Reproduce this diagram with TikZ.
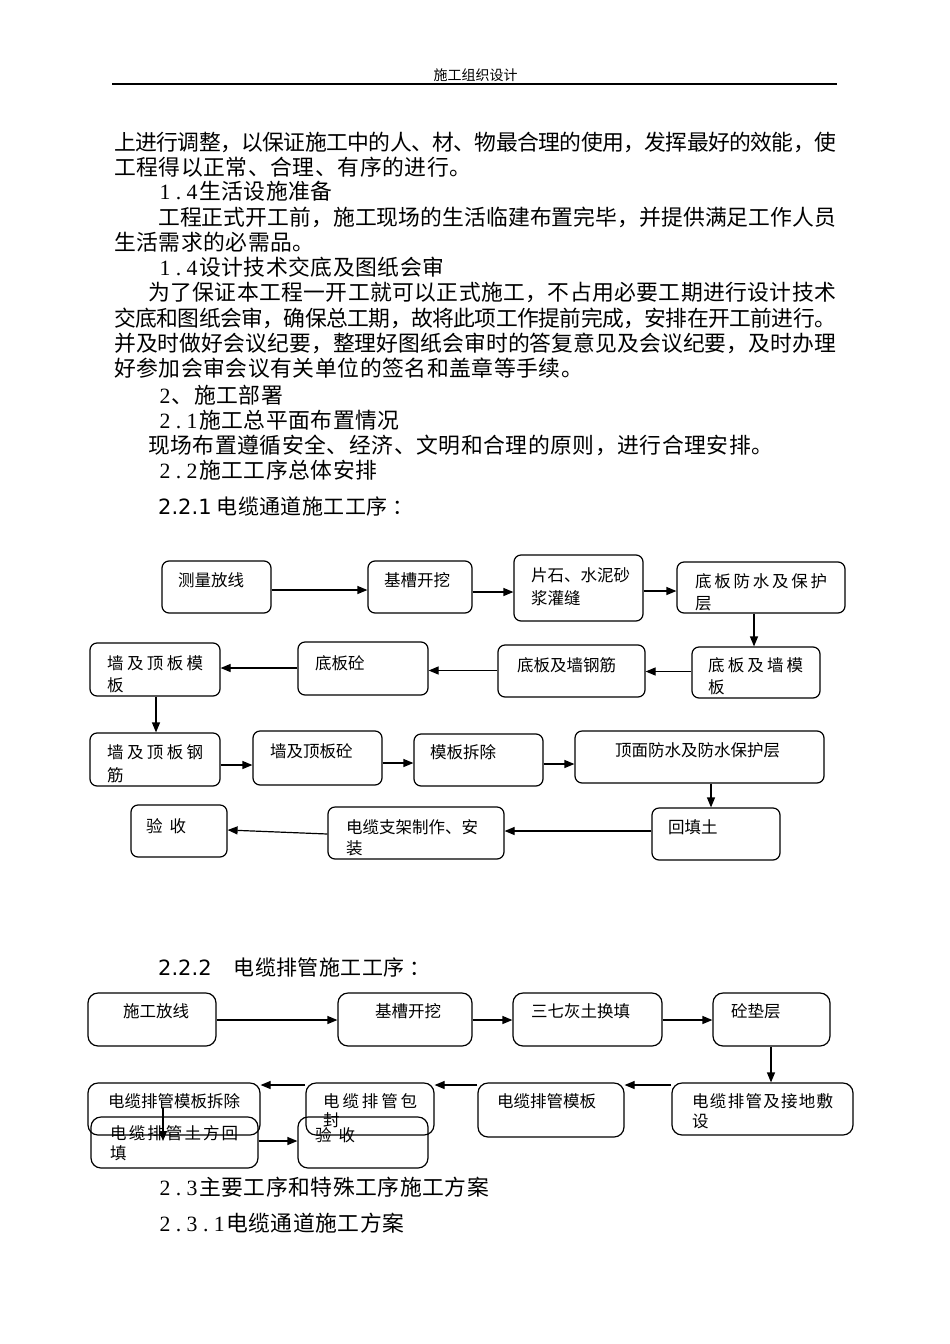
\documentclass[tikz,border=0pt]{standalone}
\usepackage{fontspec}
\setmainfont{Noto Sans CJK SC}
\newfontfamily\lser{Liberation Serif}
\newfontfamily\dvs{DejaVu Sans}
\usetikzlibrary{arrows.meta}
\newcommand\hwA[1]{\makebox[13.6pt][c]{\lser #1}}
\makeatletter
\newcommand\sprd[2]{\def\sp@g{#1}\sprd@a#2\@nil}
\def\sprd@a#1{#1\sprd@b}
\def\sprd@b#1{\ifx\@nil#1\else\sp@g#1\expandafter\sprd@b\fi}
\makeatother
\newcommand\jl[2]{\makebox[#1][s]{\sprd{\hskip 0pt plus 1fil minus 1pt}{#2}}}
\newcommand\lsp[1]{\sprd{\hskip 0.55pt}{#1}}
\newcommand\bbox[6]{\node[#1, minimum width={#4-#2}, minimum height={#5-#3}] (#6) at ({(#2+#4)/2},{(#3+#5)/2}) {};}
\begin{document}
\begin{tikzpicture}[x=1pt,y=-1pt,
  body/.style={anchor=west, inner sep=0pt, font=\fontsize{21.8}{26}\selectfont, text height=19.2pt, text depth=2.6pt},
  ttl/.style={anchor=west, inner sep=0pt, font=\fontsize{21}{25}\selectfont, text height=18.5pt, text depth=2.5pt},
  hdr/.style={anchor=center, inner sep=0pt, font=\fontsize{14}{16}\selectfont, text height=12.3pt, text depth=1.7pt},
  bt/.style={anchor=west, inner sep=0pt, font=\fontsize{16.5}{19}\selectfont, text height=14.5pt, text depth=2pt},
  fa/.style={draw, line width=1.2pt, rounded corners=7pt, inner sep=0pt},
  fb/.style={draw, line width=1.2pt, rounded corners=10pt, inner sep=0pt},
  arr/.style={line width=1.2pt, -{Triangle[length=10pt,width=8pt]}}]
\useasboundingbox[fill=white] (0,0) rectangle (950,1344);

% header
\node[hdr] (hd) at (475.5,75) {施工组织设计};
\coordinate (rl) at (112,84);
\coordinate (rr) at (837,84);
\draw[line width=1.4pt] (rl) -- (rr);

% body text
\node[body] (l1) at (114,141.7) {\jl{722pt}{上进行调整，以保证施工中的人、材、物最合理的使用，发挥最好的效能，使}};
\node[body] (l2) at (114,166.7) {\lsp{工程得以正常、合理、有序的进行。}};
\node[body] (l3) at (158,191.3) {\hwA{1}\hwA{.}\hwA{4}\lsp{生活设施准备}};
\node[body] (l4) at (158,216.7) {\jl{678pt}{工程正式开工前，施工现场的生活临建布置完毕，并提供满足工作人员}};
\node[body] (l5) at (114,241.7) {\lsp{生活需求的必需品。}};
\node[body] (l6) at (158,267.3) {\hwA{1}\hwA{.}\hwA{4}\lsp{设计技术交底及图纸会审}};
\node[body] (l7) at (148,292.3) {\jl{688pt}{为了保证本工程一开工就可以正式施工，不占用必要工期进行设计技术}};
\node[body] (l8) at (114,317.7) {\jl{722pt}{交底和图纸会审，确保总工期，故将此项工作提前完成，安排在开工前进行。}};
\node[body] (l9) at (114,342.7) {\jl{722pt}{并及时做好会议纪要，整理好图纸会审时的答复意见及会议纪要，及时办理}};
\node[body] (l10) at (114,368.3) {\lsp{好参加会审会议有关单位的签名和盖章等手续。}};
\node[body] (l11) at (158,395) {\hwA{2}\lsp{、施工部署}};
\node[body] (l12) at (158,420) {\hwA{2}\hwA{.}\hwA{1}\lsp{施工总平面布置情况}};
\node[body] (l13) at (148,445) {\lsp{现场布置遵循安全、经济、文明和合理的原则，进行合理安排。}};
\node[body] (l14) at (158,470.3) {\hwA{2}\hwA{.}\hwA{2}\lsp{施工工序总体安排}};

\node[ttl] (t1) at (158,506.7) {{\dvs 2.2.1}\hspace{5pt}\sprd{\hskip 0.4pt}{电缆通道施工工序}\hspace{5pt}：};

% flowchart 1
\bbox{fa}{162}{561}{271}{613}{a1}
\bbox{fa}{368}{561}{472}{613}{a2}
\bbox{fa}{514}{555}{643}{621}{a3}
\bbox{fa}{677}{562}{845}{613}{a4}
\bbox{fa}{692}{647}{820}{698}{a5}
\bbox{fa}{498}{645}{645}{697}{a6}
\bbox{fa}{298}{642}{428}{695}{a7}
\bbox{fa}{90}{643}{220}{696}{a8}
\bbox{fa}{90}{733}{220}{786}{a9}
\bbox{fa}{253}{731}{382}{785}{a10}
\bbox{fa}{414}{734}{543}{786}{a11}
\bbox{fa}{575}{731}{824}{783}{a12}
\bbox{fa}{652}{808}{780}{860}{a13}
\bbox{fa}{328}{807}{504}{859}{a14}
\bbox{fa}{131}{805}{227}{857}{a15}

\node[bt] (ta1) at (178,580) {测量放线};
\node[bt] (ta2) at (384,580) {基槽开挖};
\node[bt] (ta3a) at (531,575) {片石、水泥砂};
\node[bt] (ta3b) at (531,598) {浆灌缝};
\node[bt] (ta4a) at (695,581.5) {\jl{132pt}{底板防水及保护}};
\node[bt] (ta4b) at (695,603) {层};
\node[bt] (ta5a) at (708,665) {\jl{95pt}{底板及墙模}};
\node[bt] (ta5b) at (708,687) {板};
\node[bt] (ta6) at (517,665) {底板及墙钢筋};
\node[bt] (ta7) at (315,663) {底板砼};
\node[bt] (ta8a) at (107,663) {\jl{96pt}{墙及顶板模}};
\node[bt] (ta8b) at (107,685) {板};
\node[bt] (ta9a) at (107,752.7) {\jl{96pt}{墙及顶板钢}};
\node[bt] (ta9b) at (107,775) {筋};
\node[bt] (ta10) at (270,751.7) {墙及顶板砼};
\node[bt] (ta11) at (430,752) {模板拆除};
\node[bt] (ta12) at (615,750) {顶面防水及防水保护层};
\node[bt] (ta13) at (668,827) {回填土};
\node[bt] (ta14a) at (346,827) {电缆支架制作、安};
\node[bt] (ta14b) at (346,848) {装};
\node[bt] (ta15) at (146,826) {验\hspace{7pt}收};

\draw[arr] (a1.east |- 0,590) -- (a2.west |- 0,590);
\draw[arr] (a2.east |- 0,592) -- (a3.west |- 0,592);
\draw[arr] (a3.east |- 0,591) -- (a4.west |- 0,591);
\draw[arr] (a4.south -| 754,0) -- (a5.north -| 754,0);
\draw[arr] (a5.west |- 0,671.5) -- (a6.east |- 0,671.5);
\draw[arr] (a6.west |- 0,670.5) -- (a7.east |- 0,670.5);
\draw[arr] (a7.west |- 0,668) -- (a8.east |- 0,668);
\draw[arr] (a8.south -| 156,0) -- (a9.north -| 156,0);
\draw[arr] (a9.east |- 0,765) -- (a10.west |- 0,765);
\draw[arr] (a10.east |- 0,763) -- (a11.west |- 0,763);
\draw[arr] (a11.east |- 0,764) -- (a12.west |- 0,764);
\draw[arr] (a12.south -| 711,0) -- (a13.north -| 711,0);
\draw[arr] (a13.west |- 0,831) -- (a14.east |- 0,831);
\draw[arr] (a14.west |- 0,834) -- (a15.east |- 0,830);

\node[ttl] (t2) at (158,967) {{\dvs 2.2.2}\hspace{22pt}\sprd{\hskip 0.4pt}{电缆排管施工工序}\hspace{5pt}：};

% flowchart 2
\bbox{fb}{88}{993}{216}{1046}{b1}
\bbox{fb}{338}{993}{472}{1046}{b2}
\bbox{fb}{513}{993}{662}{1046}{b3}
\bbox{fb}{713}{993}{830}{1046}{b4}
\bbox{fb}{672}{1083}{853}{1135}{b5}
\bbox{fb}{478}{1083}{624}{1137}{b6}
\bbox{fb}{306}{1083}{434}{1135}{b7}
\bbox{fb}{88}{1083}{260}{1135}{b8}
\bbox{fb}{91}{1117}{258}{1168}{b9}
\bbox{fb}{298}{1117}{428}{1168}{b10}

\node[bt] (tb1) at (123,1011.7) {施工放线};
\node[bt] (tb2) at (375,1011.7) {基槽开挖};
\node[bt] (tb3) at (531,1011.7) {三七灰土换填};
\node[bt] (tb4) at (731,1011.7) {砼垫层};
\node[bt] (tb5a) at (692,1101.7) {\jl{141pt}{电缆排管及接地敷}};
\node[bt] (tb5b) at (692,1121.7) {设};
\node[bt] (tb6) at (497,1101.7) {电缆排管模板};
\node[bt] (tb7a) at (323,1101.7) {\jl{94pt}{电缆排管包}};
\node[bt] (tb7b) at (323,1120) {封};
\node[bt] (tb8) at (108,1101.7) {电缆排管模板拆除};
\node[bt] (tb9a) at (110,1133.5) {\jl{128pt}{电缆排管土方回}};
\node[bt] (tb9b) at (110,1153.3) {填};
\node[bt] (tb10) at (315,1135) {验\hspace{7pt}收};

\coordinate (c89s) at (163,1108);
\coordinate (c89e) at (163,1141);
\draw[arr] (b1.east |- 0,1020) -- (b2.west |- 0,1020);
\draw[arr] (b2.east |- 0,1020) -- (b3.west |- 0,1020);
\draw[arr] (b3.east |- 0,1020) -- (b4.west |- 0,1020);
\draw[arr] (b4.south -| 771,0) -- (b5.north -| 771,0);
\draw[arr] (b5.west |- 0,1085) -- (b6.east |- 0,1085);
\draw[arr] (b6.west |- 0,1085) -- (b7.east |- 0,1085);
\draw[arr] (b7.west |- 0,1085) -- (b8.east |- 0,1085);
\draw[arr] (c89s) -- (c89e);
\draw[arr] (b9.east |- 0,1141) -- (b10.west |- 0,1141);

\node[body] (l15) at (158,1186.7) {\hwA{2}\hwA{.}\hwA{3}\lsp{主要工序和特殊工序施工方案}};
\node[body] (l16) at (158,1223) {\hwA{2}\hwA{.}\hwA{3}\hwA{.}\hwA{1}\lsp{电缆通道施工方案}};
\end{tikzpicture}
\end{document}
